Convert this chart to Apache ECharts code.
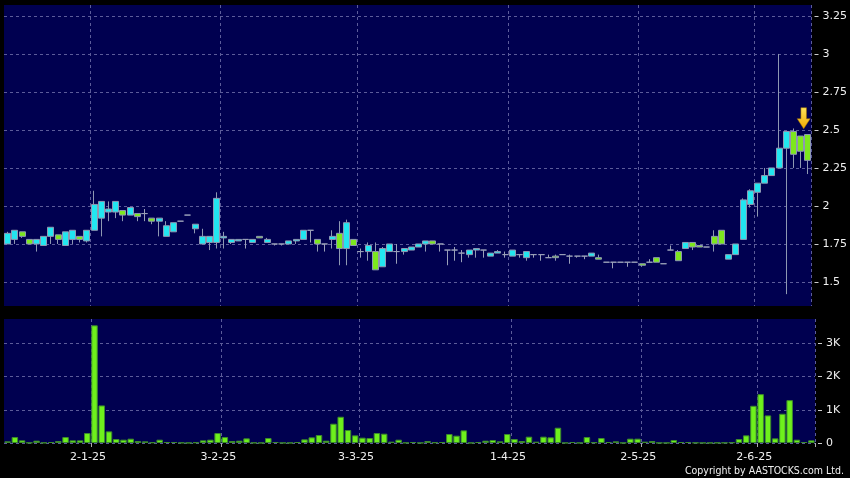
<!DOCTYPE html>
<html><head><meta charset="utf-8">
<script src="https://cdn.jsdelivr.net/npm/echarts@6/dist/echarts.min.js"></script>
<style>html,body{margin:0;padding:0;background:#000;}#c{width:850px;height:478px;}</style>
</head><body><div id="c"></div>
<script>
const dates = [
 '12-12-24','13-12-24','16-12-24','17-12-24','18-12-24','19-12-24','20-12-24','23-12-24','24-12-24','27-12-24','30-12-24','31-12-24',
 '2-1-25','3-1-25','6-1-25','7-1-25','8-1-25','9-1-25','10-1-25','13-1-25','14-1-25','15-1-25','16-1-25','17-1-25','20-1-25','21-1-25','22-1-25','23-1-25','24-1-25','27-1-25',
 '3-2-25','4-2-25','5-2-25','6-2-25','7-2-25','10-2-25','11-2-25','13-2-25','14-2-25','17-2-25','18-2-25','19-2-25','20-2-25','21-2-25','24-2-25','25-2-25','26-2-25','27-2-25','28-2-25',
 '3-3-25','4-3-25','5-3-25','6-3-25','7-3-25','10-3-25','11-3-25','12-3-25','13-3-25','14-3-25','17-3-25','18-3-25','19-3-25','20-3-25','21-3-25','24-3-25','25-3-25','26-3-25','27-3-25','28-3-25','31-3-25',
 '1-4-25','2-4-25','3-4-25','7-4-25','8-4-25','9-4-25','10-4-25','11-4-25','14-4-25','15-4-25','16-4-25','17-4-25','22-4-25','24-4-25','25-4-25','28-4-25','29-4-25','30-4-25',
 '2-5-25','6-5-25','7-5-25','8-5-25','9-5-25','12-5-25','14-5-25','15-5-25','16-5-25','20-5-25','22-5-25','23-5-25','26-5-25','28-5-25','29-5-25','30-5-25',
 '2-6-25','3-6-25','4-6-25','5-6-25','6-6-25','9-6-25','10-6-25','11-6-25'
];
const openP = [
 1.75,1.78,1.83,1.78,1.75,1.74,1.80,1.81,1.74,1.78,
 1.80,1.77,1.84,1.92,1.96,1.96,1.97,1.94,1.95,1.95,
 1.92,1.90,1.80,1.83,1.90,1.94,1.85,1.75,1.76,1.76,
 1.79,1.76,1.77,1.78,1.76,1.80,1.76,1.75,1.75,1.75,
 1.77,1.78,1.84,1.78,1.75,1.78,1.82,1.72,1.78,1.70,
 1.70,1.70,1.60,1.70,1.70,1.70,1.71,1.73,1.75,1.77,
 1.75,1.71,1.71,1.69,1.68,1.71,1.71,1.67,1.69,1.68,
 1.67,1.68,1.66,1.68,1.68,1.66,1.67,1.68,1.67,1.67,
 1.67,1.67,1.66,1.63,1.63,1.63,1.63,1.63,1.62,1.63,
 1.66,1.62,1.71,1.70,1.72,1.76,1.74,1.73,1.80,1.84,
 1.65,1.68,1.78,2.01,2.09,2.15,2.20,2.25,2.38,2.49,
 2.46,2.47
];
const closeP = [
 1.82,1.84,1.80,1.75,1.78,1.80,1.86,1.78,1.83,1.84,
 1.78,1.84,2.01,2.03,1.98,2.03,1.94,1.99,1.93,1.95,
 1.90,1.92,1.87,1.89,1.90,1.94,1.88,1.80,1.80,2.05,
 1.80,1.78,1.78,1.78,1.78,1.79,1.78,1.75,1.75,1.77,
 1.78,1.84,1.84,1.75,1.75,1.80,1.72,1.89,1.74,1.70,
 1.74,1.58,1.72,1.75,1.70,1.72,1.73,1.75,1.77,1.75,
 1.75,1.71,1.71,1.69,1.71,1.72,1.71,1.69,1.70,1.68,
 1.71,1.68,1.70,1.68,1.68,1.66,1.66,1.68,1.67,1.67,
 1.67,1.69,1.65,1.63,1.63,1.63,1.63,1.63,1.61,1.63,
 1.63,1.62,1.71,1.64,1.76,1.73,1.73,1.73,1.75,1.75,
 1.68,1.75,2.04,2.10,2.15,2.20,2.25,2.38,2.49,2.34,
 2.36,2.30
];
const highP = [
 1.83,1.84,1.83,1.78,1.78,1.80,1.86,1.81,1.83,1.84,
 1.80,1.84,2.10,2.03,2.03,2.03,1.97,1.99,1.95,1.98,
 1.92,1.92,1.90,1.89,1.90,1.94,1.88,1.85,1.80,2.09,
 1.83,1.78,1.78,1.78,1.78,1.80,1.79,1.75,1.75,1.77,
 1.78,1.84,1.84,1.78,1.75,1.84,1.90,1.91,1.78,1.72,
 1.76,1.76,1.73,1.75,1.75,1.72,1.73,1.75,1.77,1.77,
 1.75,1.71,1.73,1.71,1.71,1.72,1.71,1.69,1.71,1.70,
 1.71,1.68,1.70,1.68,1.68,1.68,1.68,1.68,1.68,1.67,
 1.67,1.69,1.68,1.63,1.63,1.63,1.63,1.63,1.62,1.65,
 1.66,1.62,1.74,1.71,1.76,1.76,1.74,1.73,1.84,1.84,
 1.68,1.75,2.05,2.11,2.15,2.25,2.25,3.00,2.49,2.51,
 2.46,2.47
];
const lowP = [
 1.75,1.75,1.79,1.75,1.70,1.74,1.75,1.75,1.74,1.75,
 1.76,1.76,1.84,1.80,1.90,1.92,1.90,1.94,1.90,1.90,
 1.88,1.80,1.80,1.83,1.90,1.94,1.82,1.75,1.71,1.72,
 1.72,1.75,1.77,1.72,1.76,1.79,1.76,1.74,1.74,1.75,
 1.75,1.78,1.76,1.70,1.70,1.72,1.61,1.61,1.74,1.66,
 1.64,1.58,1.60,1.70,1.62,1.68,1.71,1.73,1.70,1.75,
 1.70,1.61,1.64,1.63,1.66,1.66,1.66,1.67,1.69,1.66,
 1.67,1.66,1.64,1.66,1.64,1.66,1.64,1.68,1.62,1.66,
 1.65,1.67,1.65,1.63,1.59,1.63,1.60,1.63,1.60,1.63,
 1.63,1.62,1.71,1.64,1.72,1.71,1.73,1.73,1.70,1.75,
 1.65,1.68,1.78,1.99,1.93,2.15,2.20,2.25,1.42,2.25,
 2.25,2.21
];
const volumeK = [
 0.05,0.18,0.08,0.01,0.07,0.01,0.03,0.06,0.18,0.08,
 0.08,0.30,3.54,1.13,0.35,0.12,0.10,0.13,0.06,0.05,
 0.02,0.10,0.03,0.03,0.01,0.005,0.02,0.08,0.10,0.30,
 0.18,0.06,0.07,0.14,0.01,0.005,0.15,0.03,0.005,0.005,
 0.03,0.11,0.17,0.24,0.07,0.58,0.79,0.39,0.23,0.16,
 0.15,0.30,0.28,0.04,0.10,0.01,0.03,0.005,0.06,0.02,
 0.03,0.27,0.22,0.38,0.005,0.03,0.07,0.09,0.05,0.27,
 0.12,0.06,0.19,0.04,0.19,0.17,0.46,0.005,0.03,0.005,
 0.18,0.02,0.15,0.03,0.05,0.005,0.13,0.13,0.04,0.06,
 0.005,0.005,0.09,0.03,0.03,0.01,0.005,0.005,0.01,0.01,
 0.02,0.12,0.23,1.12,1.47,0.83,0.14,0.88,1.29,0.10,
 0.03,0.08
];
const priceTicks = [1.5, 1.75, 2, 2.25, 2.5, 2.75, 3, 3.25];
const volumeTicks = [0, 1, 2, 3];
const arrowMarker = { index: 110, price: 2.505 };

const monthStarts = dates.map((d, i) => (i > 0 && d.split('-')[1] !== dates[i - 1].split('-')[1]) ? i : -1).filter(i => i >= 0);
const isStart = (i) => monthStarts.indexOf(i) >= 0;
const candles = dates.map((d, i) => [openP[i], closeP[i], lowP[i], highP[i]]);

const gridLine = { show: true, lineStyle: { color: '#5c5c9a', type: [3, 3], width: 1 } };
const chart = echarts.init(document.getElementById('c'));
chart.setOption({
  backgroundColor: '#000',
  animation: false,
  grid: [
    { left: 4, width: 811, top: 5, height: 301, show: true, backgroundColor: '#000050', borderWidth: 0 },
    { left: 4, width: 811, top: 319, height: 124, show: true, backgroundColor: '#000050', borderWidth: 0 }
  ],
  xAxis: [
    { type: 'category', gridIndex: 0, data: dates, boundaryGap: true,
      axisLine: { show: false }, axisTick: { show: false }, axisLabel: { show: false },
      splitLine: Object.assign({ interval: (i) => isStart(i) }, gridLine) },
    { type: 'category', gridIndex: 1, data: dates, boundaryGap: true,
      axisLine: { show: false },
      axisTick: { show: true, interval: (i) => isStart(i), length: 4, lineStyle: { color: '#aaaaaa' } },
      axisLabel: { interval: (i) => isStart(i), color: '#f0f0f0', fontSize: 11, fontFamily: 'DejaVu Sans', margin: 9, padding: [0, 13, 0, 0] },
      splitLine: Object.assign({ interval: (i) => isStart(i) }, gridLine) }
  ],
  yAxis: [
    { type: 'value', gridIndex: 0, position: 'right', min: 1.342, max: 3.322, offset: 3,
      axisLine: { show: false },
      axisTick: { show: true, customValues: priceTicks, length: 4, lineStyle: { color: '#cccccc' } },
      axisLabel: { customValues: priceTicks, color: '#f0f0f0', fontSize: 11, fontFamily: 'DejaVu Sans', margin: 8 },
      splitLine: gridLine },
    { type: 'value', gridIndex: 1, position: 'right', min: 0, max: 3.73, offset: 3,
      axisLine: { show: false },
      axisTick: { show: true, customValues: volumeTicks, length: 4, lineStyle: { color: '#cccccc' } },
      axisLabel: { customValues: volumeTicks, color: '#f0f0f0', fontSize: 11, fontFamily: 'DejaVu Sans', margin: 8,
                   formatter: (v) => v === 0 ? '0' : v + 'K' },
      splitLine: gridLine }
  ],
  series: [
    { type: 'candlestick', xAxisIndex: 0, yAxisIndex: 0, data: candles, barWidth: 6.5,
      itemStyle: { color: '#22e6f0', color0: '#7de81e', borderColor: '#8e98b2', borderColor0: '#8e98b2', borderColorDoji: '#9aa0b8', borderWidth: 1 },
      markPoint: {
        symbol: 'path://M4,0 L10,0 L10,11 L14,11 L7,21 L0,11 L4,11 Z',
        symbolSize: [13, 21], symbolOffset: [3, -11],
        label: { show: false },
        itemStyle: { color: new echarts.graphic.LinearGradient(0, 0, 0, 1, [{ offset: 0, color: '#ffe45a' }, { offset: 1, color: '#f0a800' }]), borderColor: '#a07000', borderWidth: 0.5 },
        data: [{ coord: [dates[arrowMarker.index], arrowMarker.price] }]
      } },
    { type: 'bar', xAxisIndex: 1, yAxisIndex: 1, data: volumeK, barWidth: 6.5,
      itemStyle: { color: '#6ef01c', borderColor: '#3c8a2c', borderWidth: 1 } }
  ],
  graphic: [
    { type: 'text', right: 6, bottom: 1, style: { text: 'Copyright by AASTOCKS.com Ltd.', fill: '#f0f0f0', font: '10.5px "DejaVu Sans Condensed", "Liberation Sans"' } }
  ]
});
</script></body></html>
